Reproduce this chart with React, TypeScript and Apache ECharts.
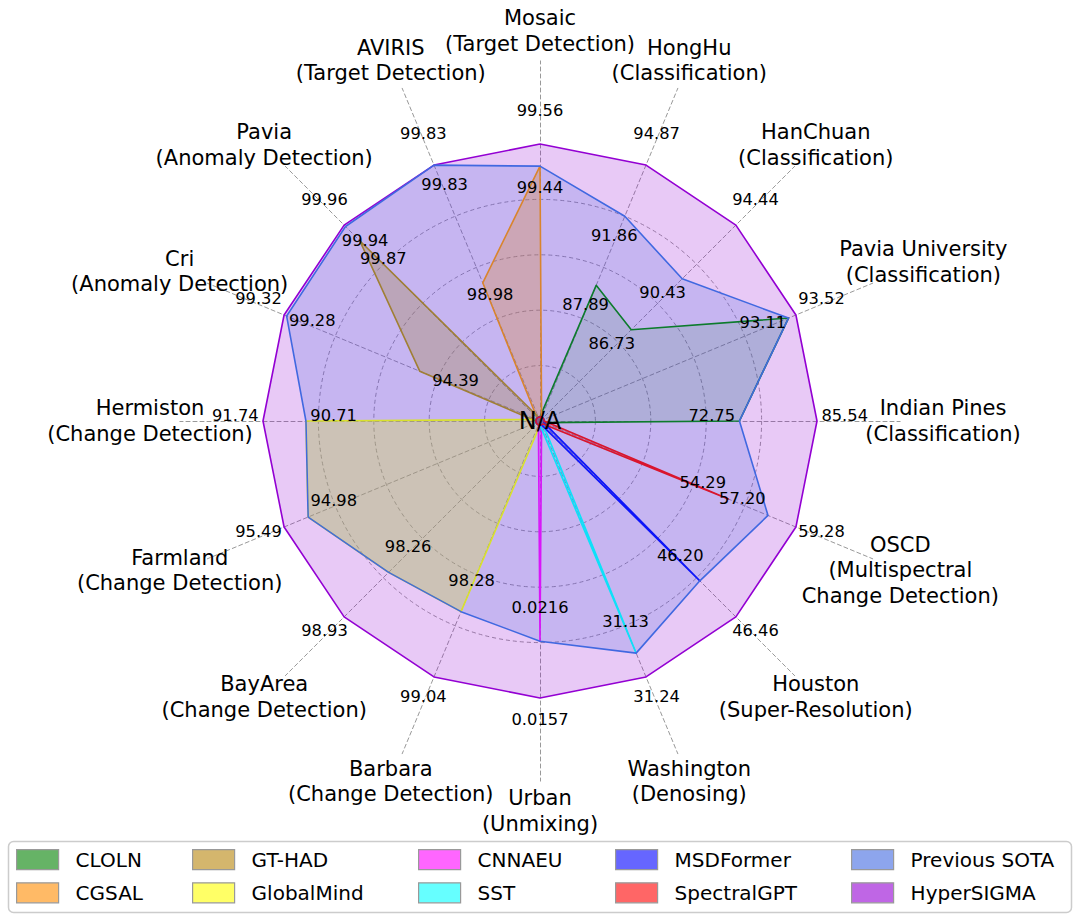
import React, { useEffect, useRef } from 'react';
import * as echarts from 'echarts';

// ---------------- data (clockwise from top) ----------------
const CATEGORIES = [
  'Mosaic\n(Target Detection)',
  'HongHu\n(Classification)',
  'HanChuan\n(Classification)',
  'Pavia University\n(Classification)',
  'Indian Pines\n(Classification)',
  'OSCD\n(Multispectral\nChange Detection)',
  'Houston\n(Super-Resolution)',
  'Washington\n(Denosing)',
  'Urban\n(Unmixing)',
  'Barbara\n(Change Detection)',
  'BayArea\n(Change Detection)',
  'Farmland\n(Change Detection)',
  'Hermiston\n(Change Detection)',
  'Cri\n(Anomaly Detection)',
  'Pavia\n(Anomaly Detection)',
  'AVIRIS\n(Target Detection)',
];

// reported scores
const HYPERSIGMA_SCORES = [99.56, 94.87, 94.44, 93.52, 85.54, 59.28, 46.46, 31.24, 0.0157, 99.04, 98.93, 95.49, 91.74, 99.32, 99.96, 99.83];
const SOTA_SCORES = [99.44, 91.86, 90.43, 93.11, 72.75, 57.2, 46.2, 31.13, 0.0216, 98.28, 98.26, 94.98, 90.71, 99.28, 99.94, 99.83];
const CLOLN_SCORES = [null, 87.89, 86.73, 93.11, 72.75, null, null, null, null, null, null, null, null, null, null, null];
const CGSAL_SCORES = [99.44, null, null, null, null, null, null, null, null, null, null, null, null, null, null, 98.98];
const GTHAD_SCORES = [null, null, null, null, null, null, null, null, null, null, null, null, null, 94.39, 99.87, null];
const GLOBALMIND_SCORES = [null, null, null, null, null, null, null, null, null, 98.28, 98.26, 94.98, 90.71, null, null, null];
const CNNAEU_SCORES = [null, null, null, null, null, null, null, null, 0.0216, null, null, null, null, null, null, null];
const SST_SCORES = [null, null, null, null, null, null, null, 31.13, null, null, null, null, null, null, null, null];
const MSDFORMER_SCORES = [null, null, null, null, null, null, 46.2, null, null, null, null, null, null, null, null, null];
const SPECTRALGPT_SCORES = [null, null, null, null, null, 54.29, null, null, null, null, null, null, null, null, null, null];

// normalised radial positions (HyperSIGMA = 1)
const HYPERSIGMA_R = [1, 1, 1, 1, 1, 1, 1, 1, 1, 1, 1, 1, 1, 1, 1, 1];
const SOTA_R = [0.92, 0.8, 0.726, 0.971, 0.72, 0.891, 0.816, 0.907, 0.795, 0.745, 0.773, 0.906, 0.845, 0.99, 0.993, 1.0];
const CLOLN_R = [null, 0.53, 0.466, 0.971, 0.72, null, null, null, null, null, null, null, null, null, null, null];
const CGSAL_R = [0.92, null, null, null, null, null, null, null, null, null, null, null, null, null, null, 0.54];
const GTHAD_R = [null, null, null, null, null, null, null, null, null, null, null, null, null, 0.47, 0.92, null];
const GLOBALMIND_R = [null, null, null, null, null, null, null, null, null, 0.745, 0.773, 0.906, 0.845, null, null, null];
const CNNAEU_R = [null, null, null, null, null, null, null, null, 0.795, null, null, null, null, null, null, null];
const SST_R = [null, null, null, null, null, null, null, 0.907, null, null, null, null, null, null, null, null];
const MSDFORMER_R = [null, null, null, null, null, null, 0.816, null, null, null, null, null, null, null, null, null];
const SPECTRALGPT_R = [null, null, null, null, null, 0.736, null, null, null, null, null, null, null, null, null, null];
const NA_R = 0.015; // where "N/A" entries sit (hidden under the centre text)

const METHODS = ['CLOLN', 'CGSAL', 'GT-HAD', 'GlobalMind', 'CNNAEU', 'SST', 'MSDFormer', 'SpectralGPT', 'Previous SOTA', 'HyperSIGMA'];
const METHOD_SCORES = [CLOLN_SCORES, CGSAL_SCORES, GTHAD_SCORES, GLOBALMIND_SCORES, CNNAEU_SCORES, SST_SCORES, MSDFORMER_SCORES, SPECTRALGPT_SCORES, SOTA_SCORES, HYPERSIGMA_SCORES];
const METHOD_R = [CLOLN_R, CGSAL_R, GTHAD_R, GLOBALMIND_R, CNNAEU_R, SST_R, MSDFORMER_R, SPECTRALGPT_R, SOTA_R, HYPERSIGMA_R];

// ---------------- styles / layout ----------------
const LINE_COLORS = ['#008000', '#ff8c00', '#b8860b', '#ffff00', '#ff00ff', '#00ffff', '#0000ff', '#ff0000', '#4169e1', '#9400d3'];
const SWATCH_COLORS = ['#66b366', '#ffba66', '#d4b66d', '#ffff66', '#ff66ff', '#66ffff', '#6666ff', '#ff6666', '#8da5ed', '#bf66e5'];
const FILL_OPACITY = [0.12, 0.3, 0.3, 0.3, 0.25, 0.25, 0.25, 0.25, 0.2, 0.21];
const DRAW_ORDER = [9, 0, 1, 2, 3, 4, 5, 6, 7, 8]; // HyperSIGMA at the back, Previous SOTA on top
const CX = 540;
const CY = 421;
const UNIT = 277; // pixels for normalised 1.0
const FONT = 'DejaVu Sans';
const CATEGORY_LABEL_R = [1.408, 1.408, 1.408, 1.498, 1.455, 1.408, 1.408, 1.408, 1.408, 1.408, 1.408, 1.408, 1.408, 1.408, 1.408, 1.408];
const HS_LABEL_R = 1.1;
const LABEL_INSET = 0.1;
const LABEL_R_OVERRIDE: Record<string, number> = { '1-15': 0.47, '2-13': 0.33, '2-14': 0.8 };
const LEGEND_LEFTS = [16, 192, 418, 615, 851];

const N = CATEGORIES.length;
// ECharts radar runs counter-clockwise; reorder so the picture reads clockwise
const ORDER = Array.from({ length: N }, (_, k) => (N - k) % N);
const reorder = (arr: any[]) => ORDER.map((i) => arr[i]);
const angleOf = (i: number) => (i * 360) / N;
const fmt = (v: number) => (v < 1 ? v.toFixed(4) : v.toFixed(2));

const labelBase = {
  show: true,
  position: 'inside',
  formatter: '{b}',
  color: '#000000',
  opacity: 1,
  textBorderWidth: 0,
  fontFamily: FONT,
};

function buildOption() {
  const indicatorMain = reorder(CATEGORIES).map(() => ({ name: '', min: 0, max: 1.3 }));
  const indicatorGrid = reorder(CATEGORIES).map(() => ({ name: '', min: 0, max: 0.8 }));

  const radarSeries = DRAW_ORDER.map((mi, k) => {
    const m = METHODS[mi];
    return {
      type: 'radar',
      radarIndex: 0,
      name: m,
      symbol: 'none',
      silent: true,
      z: 2 + k * 0.01,
      lineStyle: { color: LINE_COLORS[mi], width: 1.6 },
      itemStyle: { color: LINE_COLORS[mi] },
      areaStyle: { color: LINE_COLORS[mi], opacity: FILL_OPACITY[mi] },
      emphasis: { disabled: true },
      data: [{ name: m, value: reorder(METHOD_R[mi].map((r: number | null) => (r == null ? NA_R : r))) }],
    };
  });

  // value labels
  const valueLabels: any[] = [];
  const sotaIdx = 8;
  for (let i = 0; i < N; i++) {
    valueLabels.push({ name: fmt(HYPERSIGMA_SCORES[i]), value: [HS_LABEL_R, angleOf(i)] });
    valueLabels.push({ name: fmt(SOTA_SCORES[i]), value: [SOTA_R[i] - LABEL_INSET, angleOf(i)] });
  }
  for (let mi = 0; mi < sotaIdx; mi++) {
    for (let i = 0; i < N; i++) {
      const v = METHOD_SCORES[mi][i] as number | null;
      const r = METHOD_R[mi][i] as number | null;
      if (v == null || r == null || v === SOTA_SCORES[i]) continue;
      const key = `${mi}-${i}`;
      const lr = LABEL_R_OVERRIDE[key] != null ? LABEL_R_OVERRIDE[key] : r - LABEL_INSET;
      valueLabels.push({ name: fmt(v), value: [lr, angleOf(i)] });
    }
  }

  const categoryLabels = CATEGORIES.map((c, i) => ({ name: c, value: [CATEGORY_LABEL_R[i], angleOf(i)] }));

  const legendGroups = [0, 1, 2, 3, 4].map((g) => ({
    orient: 'vertical',
    left: LEGEND_LEFTS[g],
    top: 849,
    padding: 0,
    itemWidth: 42,
    itemHeight: 20,
    itemGap: 12,
    icon: 'rect',
    selectedMode: false,
    textStyle: { fontFamily: FONT, fontSize: 20, color: '#000', padding: [0, 0, 0, 12] },
    data: [METHODS[g * 2], METHODS[g * 2 + 1]].map((name) => {
      const mi = METHODS.indexOf(name);
      return {
        name,
        itemStyle: { color: SWATCH_COLORS[mi], borderColor: '#999999', borderWidth: 1.2, opacity: 1 },
      };
    }),
  }));

  return {
    animation: false,
    backgroundColor: '#ffffff',
    tooltip: { show: false },
    radar: [
      {
        center: [CX, CY],
        radius: UNIT * 1.3,
        startAngle: 90,
        splitNumber: 1,
        shape: 'polygon',
        indicator: indicatorMain,
        axisName: { show: false },
        axisLine: { show: true, lineStyle: { color: '#999999', width: 1, type: [4, 3] } },
        splitLine: { show: false },
        splitArea: { show: false },
        axisTick: { show: false },
        axisLabel: { show: false },
        silent: true,
      },
      {
        center: [CX, CY],
        radius: UNIT * 0.8,
        startAngle: 90,
        splitNumber: 4,
        shape: 'circle',
        indicator: indicatorGrid,
        axisName: { show: false },
        axisLine: { show: false },
        splitLine: { show: true, lineStyle: { color: '#999999', width: 1, type: [4, 3] } },
        splitArea: { show: false },
        axisTick: { show: false },
        axisLabel: { show: false },
        silent: true,
      },
    ],
    polar: { center: [CX, CY], radius: UNIT * 1.5 },
    angleAxis: {
      type: 'value',
      min: 0,
      max: 360,
      startAngle: 90,
      clockwise: true,
      axisLine: { show: false },
      axisTick: { show: false },
      axisLabel: { show: false },
      splitLine: { show: false },
    },
    radiusAxis: {
      type: 'value',
      min: 0,
      max: 1.5,
      axisLine: { show: false },
      axisTick: { show: false },
      axisLabel: { show: false },
      splitLine: { show: false },
    },
    legend: legendGroups,
    graphic: [
      {
        type: 'rect',
        z: -10,
        silent: true,
        shape: { x: 8.5, y: 841.5, width: 1063, height: 71, r: 5 },
        style: { fill: '#ffffff', stroke: '#cccccc', lineWidth: 1.5 },
      },
    ],
    series: [
      ...radarSeries,
      {
        type: 'scatter',
        name: 'value-labels',
        coordinateSystem: 'polar',
        symbolSize: 1,
        silent: true,
        z: 20,
        itemStyle: { color: 'rgba(0,0,0,0)' },
        label: { ...labelBase, fontSize: 16.3, offset: [0, -6] },
        data: valueLabels,
      },
      {
        type: 'scatter',
        name: 'category-labels',
        coordinateSystem: 'polar',
        symbolSize: 1,
        silent: true,
        z: 20,
        itemStyle: { color: 'rgba(0,0,0,0)' },
        label: { ...labelBase, fontSize: 21, lineHeight: 25.5, align: 'center', verticalAlign: 'middle' },
        data: categoryLabels,
      },
      {
        type: 'scatter',
        name: 'na-label',
        coordinateSystem: 'polar',
        symbolSize: 1,
        silent: true,
        z: 21,
        itemStyle: { color: 'rgba(0,0,0,0)' },
        label: { ...labelBase, fontSize: 24 },
        data: [{ name: 'N/A', value: [0, 0] }],
      },
    ],
  };
}

export default function App() {
  const ref = useRef<HTMLDivElement>(null);
  useEffect(() => {
    document.body.style.margin = '0';
    const chart = echarts.init(ref.current as HTMLDivElement, null, { renderer: 'svg' });
    chart.setOption(buildOption() as any);
    return () => chart.dispose();
  }, []);
  return <div ref={ref} style={{ width: 1080, height: 921 }} />;
}
